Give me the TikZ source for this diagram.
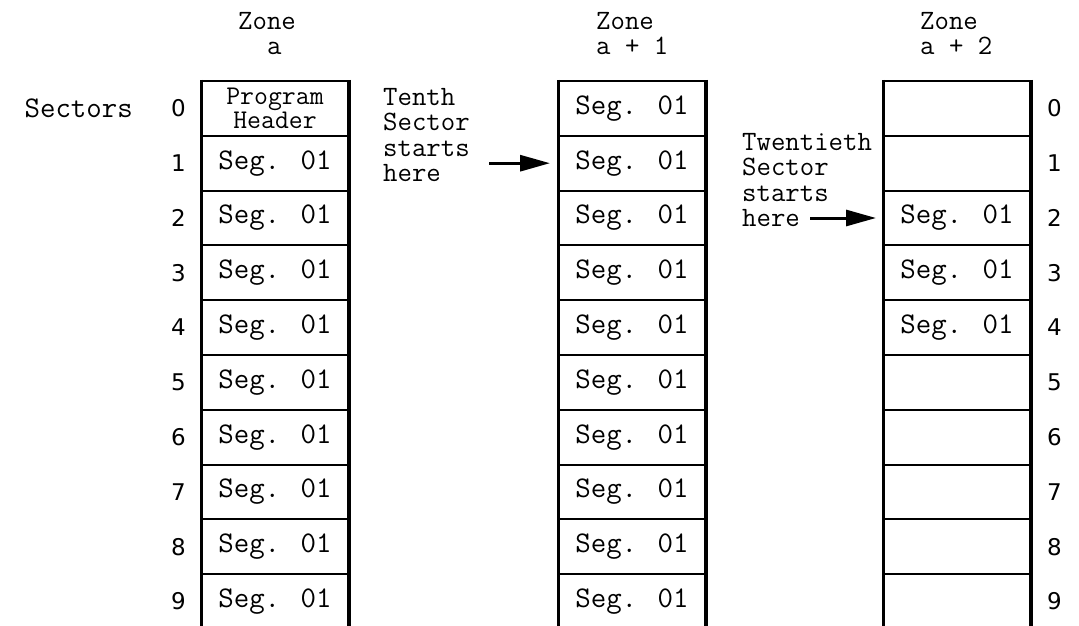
\documentclass[tikz,border=0pt]{standalone}
\usepackage{fontspec}
\newfontfamily\digits{DejaVu Sans}
\newcommand\tw{\ttfamily}
\usetikzlibrary{arrows.meta,positioning}

\begin{document}
\begin{tikzpicture}[x=1pt,y=-1pt,>={Triangle[length=30pt,width=16pt]},
  cell/.style={draw,line width=2pt,minimum width=146pt,minimum height=54.8pt,
    inner sep=0pt,align=center,font=\tw\fontsize{30}{24}\selectfont},
  wall/.style={line width=3pt},
  num/.style={inner sep=0pt,font=\digits\fontsize{23}{23}\selectfont},
  note/.style={inner sep=0pt,align=left,font=\tw\fontsize{28}{25.5}\selectfont},
  ptr/.style={->,line width=3pt}]
  \useasboundingbox (0,0) rectangle (1079,626);
  % zone a
  \node[cell,font=\tw\fontsize{27}{24.5}\selectfont] (a0) at (275,108.4) {Program\\Header};
  \foreach \r in {1,...,9}
    \node[cell] (a\r) at (275,{108.4+54.8*\r}) {Seg. 01};
  % zone a + 1
  \foreach \r in {0,...,9}
    \node[cell] (b\r) at (632,{108.4+54.8*\r}) {Seg. 01};
  % zone a + 2
  \foreach \r/\t in {0/,1/,2/Seg. 01,3/Seg. 01,4/Seg. 01,5/,6/,7/,8/,9/}
    \node[cell] (c\r) at (957,{108.4+54.8*\r}) {\t};
  \foreach \z in {a,b,c} {
    \draw[wall] (\z0.north west) -- (\z9.south west);
    \draw[wall] (\z0.north east) -- (\z9.south east);
  }
  % sector numbers
  \foreach \r in {0,...,9} {
    \node[num,left=15pt of a\r.west] (la\r) {\r};
    \node[num,right=16pt of c\r.east] (rc\r) {\r};
  }
  \node[note,font=\tw\fontsize{30}{25}\selectfont,left=38pt of la0] (sectors) {Sectors};
  % headers
  \node[note,anchor=north west] (hda) at (238,12) {Zone\\\phantom{Zo}a};
  \node[note,anchor=north west] (hdb) at (596,12) {Zone\\a + 1};
  \node[note,anchor=north west] (hdc) at (920,12) {Zone\\a + 2};
  % start markers
  \node[note,anchor=north west] (tenth) at (383,88) {Tenth\\Sector\\starts\\here};
  \node[note,anchor=north west] (twentieth) at (742,133) {Twentieth\\Sector\\starts\\here};
  \coordinate (tenthtail) at (489,163.2);
  \coordinate (twtail) at (810,218);
  \draw[ptr,shorten >=8pt] (tenthtail) -- (b1.west);
  \draw[ptr,shorten >=7pt] (twtail) -- (c2.west);
\end{tikzpicture}
\end{document}
